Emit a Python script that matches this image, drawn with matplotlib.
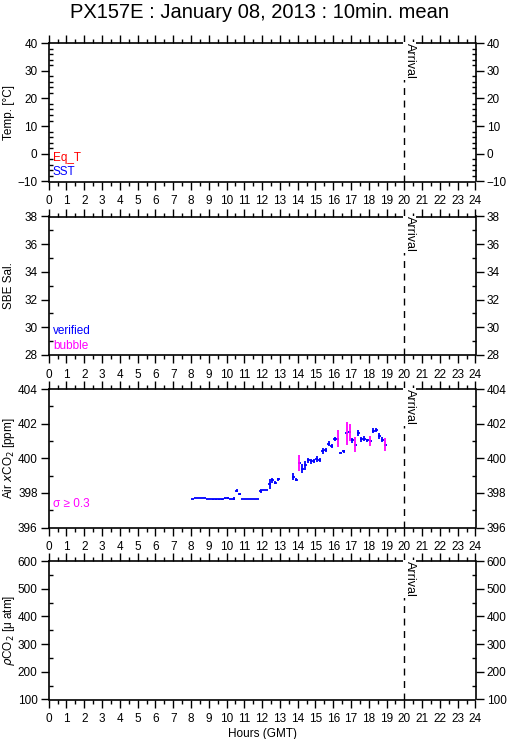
import numpy as np
import matplotlib
matplotlib.use('Agg')
import matplotlib.pyplot as plt
from matplotlib.ticker import MultipleLocator

plt.rcParams['font.family'] = ['Liberation Sans', 'DejaVu Sans']

TITLE = 'PX157E : January 08, 2013 : 10min. mean'
ARRIVAL = 20.0

# 10-min mean air xCO2 (hour GMT, ppm, std dev)
hours = [8.083, 8.25, 8.417, 8.583, 8.75, 8.917, 9.083, 9.25, 9.417, 9.583, 9.75,
         9.917, 10.083, 10.25, 10.417, 10.583, 10.75, 10.917, 11.083, 11.25, 11.417,
         11.583, 11.75, 11.917, 12.083, 12.25, 12.417, 12.583, 12.75, 12.917,
         13.75, 13.917, 14.083, 14.25, 14.417, 14.583, 14.75, 14.917, 15.083, 15.25,
         15.417, 15.583, 15.75, 15.917, 16.083, 16.25, 16.417, 16.583, 16.75, 16.917,
         17.083, 17.25, 17.417, 17.583, 17.75, 17.917, 18.083, 18.25, 18.417, 18.583,
         18.75, 18.917]
xco2 = [397.66, 397.72, 397.72, 397.72, 397.72, 397.66, 397.66, 397.62, 397.62, 397.62, 397.62,
        397.70, 397.72, 397.66, 397.67, 398.13, 397.93, 397.66, 397.66, 397.66, 397.66,
        397.66, 397.66, 398.10, 398.17, 398.17, 398.53, 398.72, 398.59, 398.78,
        398.92, 398.77, 399.73, 399.40, 399.59, 399.88, 399.83, 399.83, 399.94, 399.92,
        400.40, 400.50, 400.85, 400.70, 401.12, 401.14, 400.33, 400.39, 401.43, 401.49,
        401.04, 400.79, 401.47, 401.10, 401.14, 401.04, 401.00, 401.58, 401.62, 401.28,
        401.08, 400.79]
sigma = [0.01, 0.01, 0.01, 0.01, 0.01, 0.01, 0.01, 0.01, 0.01, 0.01, 0.01,
         0.03, 0.05, 0.01, 0.10, 0.08, 0.08, 0.01, 0.01, 0.01, 0.01,
         0.01, 0.01, 0.12, 0.02, 0.02, 0.28, 0.15, 0.08, 0.10,
         0.20, 0.10, 0.45, 0.25, 0.28, 0.15, 0.15, 0.12, 0.18, 0.12,
         0.18, 0.12, 0.15, 0.12, 0.12, 0.48, 0.03, 0.10, 0.66, 0.50,
         0.15, 0.43, 0.17, 0.15, 0.12, 0.10, 0.30, 0.15, 0.10, 0.15,
         0.12, 0.38]

hours = np.array(hours)
xco2 = np.array(xco2)
sigma = np.array(sigma)
bad = sigma >= 0.3

panels = [
    dict(ylabel='Temp. [°C]', ylim=(-10, 40), major=10, minor=2,
         legend=[('Eq_T', 'red'), ('SST', 'blue')]),
    dict(ylabel='SBE Sal.', ylim=(28, 38), major=2, minor=1,
         legend=[('verified', 'blue'), ('bubble', 'magenta')]),
    dict(ylabel='Air $x$CO$_2$ [ppm]', ylim=(396, 404), major=2, minor=1,
         legend=[('σ ≥ 0.3', 'magenta')]),
    dict(ylabel='$\\rho$CO$_2$ [μ atm]', ylim=(100, 600), major=100, minor=50,
         legend=[]),
]

W, H = 509, 739
fig = plt.figure(figsize=(W / 100, H / 100), dpi=100)
left, right = 48.7 / W, 475.5 / W
tops = [43, 216.5, 389, 561]
ph = 138.5

for p, top in zip(panels, tops):
    ax = fig.add_axes([left, 1 - (top + ph) / H, right - left, ph / H])
    ax.set_xlim(0, 24)
    ax.set_ylim(*p['ylim'])
    ax.xaxis.set_major_locator(MultipleLocator(1))
    ax.xaxis.set_minor_locator(MultipleLocator(0.5))
    ax.yaxis.set_major_locator(MultipleLocator(p['major']))
    ax.yaxis.set_minor_locator(MultipleLocator(p['minor']))
    ax.tick_params(axis='x', which='both', direction='out', top=True, bottom=True,
                   labelsize=8.5, pad=4, width=1)
    ax.tick_params(axis='x', which='major', length=6)
    ax.tick_params(axis='x', which='minor', length=3)
    ax.tick_params(axis='y', which='major', direction='out', left=True, right=True,
                   labelleft=True, labelright=True, length=6, labelsize=8.5, width=1, pad=2)
    ax.tick_params(axis='y', which='minor', direction='in', left=True, right=True,
                   length=3, width=1)
    for s in ax.spines.values():
        s.set_linewidth(1.2)
    ax.set_ylabel(p['ylabel'], fontsize=8.5, va='center')
    ax.yaxis.set_label_coords(-0.094, 0.5)

    ax.axvline(ARRIVAL, color='black', lw=1, ls=(0, (5, 4)), zorder=1)
    ax.text(ARRIVAL - 0.05, p['ylim'][1], 'Arrival', rotation=-90, ha='left', va='top',
            fontsize=9, zorder=3, bbox=dict(facecolor='white', edgecolor='none', pad=0.5))

    for i, (txt, col) in enumerate(p['legend']):
        ax.text(0.01, 0.17 - i * 0.102, txt, color=col, fontsize=8.5,
                transform=ax.transAxes, ha='left', va='center')

    if p['ylim'][0] == 396:
        ax.errorbar(hours, xco2, xerr=1 / 12, fmt='none', ecolor='blue', elinewidth=1.3,
                    capsize=0, zorder=2)
        ax.errorbar(hours[~bad], xco2[~bad], yerr=sigma[~bad], fmt='none', ecolor='blue',
                    elinewidth=1.3, capsize=0, zorder=2)
        ax.errorbar(hours[bad], xco2[bad], yerr=sigma[bad], fmt='none', ecolor='magenta',
                    elinewidth=1.3, capsize=0, zorder=2)

    if top == tops[-1]:
        ax.set_xlabel('Hours (GMT)', fontsize=8.5, labelpad=2)

fig.text(0.51, 1 - 12 / H, TITLE, ha='center', va='center', fontsize=14.5)

fig.savefig('out.png', dpi=100)
